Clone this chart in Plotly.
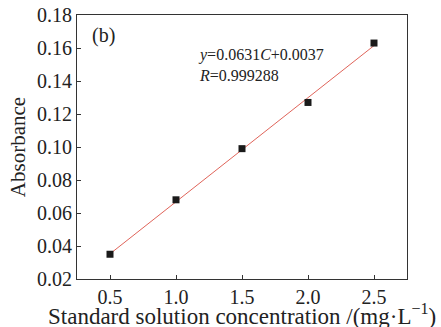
import plotly.graph_objects as go

concentration = [0.5, 1.0, 1.5, 2.0, 2.5]
absorbance = [0.035, 0.068, 0.099, 0.127, 0.163]
slope = 0.0631
intercept = 0.0037
fit_x = [0.5, 2.5]
fit_y = [slope * x + intercept for x in fit_x]

x_ticks = [0.5, 1.0, 1.5, 2.0, 2.5]
y_ticks = [0.02, 0.04, 0.06, 0.08, 0.10, 0.12, 0.14, 0.16, 0.18]

FONT = "Liberation Serif"

fig = go.Figure()
fig.add_trace(go.Scatter(x=fit_x, y=fit_y, mode="lines",
                         line=dict(color="#e0645a", width=1), showlegend=False))
fig.add_trace(go.Scatter(x=concentration, y=absorbance, mode="markers",
                         marker=dict(symbol="square", size=7, color="#1a1a1a"),
                         showlegend=False))

fig.add_annotation(text="(b)", xref="paper", yref="paper", x=0.04, y=0.924,
                   xanchor="left", yanchor="middle", showarrow=False,
                   font=dict(family=FONT, size=20, color="#222"))
fig.add_annotation(text="<i>y</i>=0.0631<i>C</i>+0.0037<br><i>R</i>=0.999288",
                   xref="paper", yref="paper", x=0.36, y=0.89,
                   xanchor="left", yanchor="top", align="left", showarrow=False,
                   font=dict(family=FONT, size=16, color="#222"))
fig.add_annotation(text="Standard solution concentration /(mg·L<sup><span style='font-size:16px'>−1</span></sup>)",
                   xref="paper", yref="paper", x=0.5, y=-0.135,
                   xanchor="center", yanchor="middle", showarrow=False,
                   font=dict(family=FONT, size=23, color="#222"))

axis_common = dict(showline=True, linecolor="#333", linewidth=1.2, mirror=True,
                   ticks="inside", ticklen=4, tickcolor="#333", showgrid=False,
                   zeroline=False, automargin=False,
                   tickfont=dict(family=FONT, size=20, color="#222"),
                   title_font=dict(family=FONT, size=21, color="#222"))

fig.update_xaxes(range=[0.25, 2.75], tickvals=x_ticks,
                 ticktext=[f"{v:.1f}" for v in x_ticks], **axis_common)
fig.update_yaxes(range=[0.02, 0.18], tickvals=y_ticks,
                 ticktext=[f"{v:.2f}" for v in y_ticks],
                 title_text="Absorbance", title_standoff=5, **axis_common)

fig.update_layout(width=441, height=327, margin=dict(l=77, r=34, t=15, b=48),
                  paper_bgcolor="white", plot_bgcolor="white")

fig.write_html("out.html", config={"displayModeBar": False},
               post_script="document.body.style.margin='0';document.body.style.overflow='hidden';")
